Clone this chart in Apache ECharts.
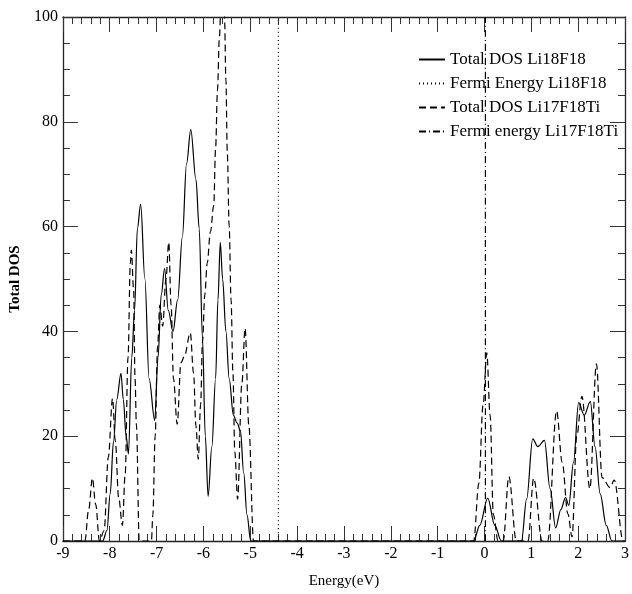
<!DOCTYPE html>
<html>
<head>
<meta charset="utf-8">
<script src="https://cdn.jsdelivr.net/npm/echarts@6/dist/echarts.min.js"></script>
<style>
  html, body { margin: 0; padding: 0; background: #fff; }
  #chart { width: 632px; height: 594px; }
</style>
</head>
<body>
<div id="chart"></div>
<script>
// Total density of states vs energy, [energy (eV), DOS]
const li18f18Dos = [
  [-9, 0], [-8.15, 0], [-8.06, 2], [-7.99, 9], [-7.92, 19], [-7.85, 27], [-7.76, 32],
  [-7.71, 27], [-7.65, 20], [-7.6, 16.6], [-7.53, 35], [-7.47, 44], [-7.41, 59.6],
  [-7.34, 64.3], [-7.25, 50], [-7.16, 31], [-7.04, 23], [-6.97, 35], [-6.9, 47],
  [-6.83, 52], [-6.75, 44], [-6.65, 40], [-6.55, 46], [-6.45, 58], [-6.36, 72],
  [-6.27, 78.5], [-6.16, 69], [-6.09, 59.6], [-6.02, 38.7], [-5.96, 20], [-5.9, 8.5],
  [-5.82, 18], [-5.74, 31], [-5.69, 46], [-5.64, 57], [-5.59, 50], [-5.52, 40],
  [-5.45, 31], [-5.36, 24], [-5.28, 22.5], [-5.21, 21], [-5.14, 13], [-5.07, 5],
  [-4.99, 0], [-0.23, 0], [-0.1, 3], [0.07, 8.2], [0.22, 3], [0.36, 0], [0.79, 0],
  [0.9, 8], [1.03, 19.5], [1.14, 18], [1.28, 19.2], [1.4, 10], [1.52, 2.5], [1.63, 6],
  [1.73, 8.3], [1.8, 6.8], [1.9, 15], [2.01, 26.4], [2.13, 24], [2.26, 26.6], [2.36, 18],
  [2.47, 9], [2.6, 3], [2.72, 0], [3, 0]
];

const li17f18tiDos = [
  [-9, 0], [-8.53, 0], [-8.45, 6], [-8.37, 12], [-8.3, 7], [-8.22, 0], [-8.12, 2],
  [-8.03, 16], [-7.94, 27.2], [-7.88, 19], [-7.81, 8.3], [-7.73, 3], [-7.67, 12.8],
  [-7.61, 35], [-7.56, 53], [-7.54, 55.5], [-7.49, 48], [-7.46, 31], [-7.43, 22],
  [-7.37, 0], [-7.11, 0], [-7.08, 5], [-7.03, 20], [-6.98, 37], [-6.93, 45],
  [-6.87, 41], [-6.8, 50], [-6.74, 57], [-6.69, 45], [-6.64, 31], [-6.56, 22.3],
  [-6.48, 34], [-6.41, 35.2], [-6.28, 39.7], [-6.21, 32], [-6.16, 22], [-6.11, 15.6],
  [-6.06, 26], [-6.02, 38], [-5.97, 47], [-5.92, 53], [-5.85, 59], [-5.78, 64],
  [-5.74, 75], [-5.7, 86], [-5.66, 96], [-5.62, 104], [-5.58, 106], [-5.55, 100],
  [-5.52, 88], [-5.49, 74], [-5.45, 60], [-5.41, 46], [-5.37, 32], [-5.33, 17],
  [-5.27, 8], [-5.18, 30], [-5.11, 40.6], [-5.03, 22], [-4.93, 0], [-0.23, 0],
  [-0.12, 11], [-0.03, 26], [0.05, 35.9], [0.12, 24], [0.19, 5], [0.29, 0], [0.4, 0],
  [0.52, 12.3], [0.68, 0], [0.93, 0], [1.05, 12], [1.23, 0], [1.35, 0], [1.54, 24.8],
  [1.66, 15], [1.78, 5.2], [1.87, 0.8], [1.97, 20], [2.08, 27.6], [2.25, 10],
  [2.39, 33.8], [2.51, 12.1], [2.68, 10.2], [2.77, 11.6], [2.96, 0], [3, 0]
];

// Fermi levels (eV)
const fermiLi18F18 = -4.4;
const fermiLi17F18Ti = 0.02;

const seriesNames = [
  'Total DOS Li18F18',
  'Fermi Energy Li18F18',
  'Total DOS Li17F18Ti',
  'Fermi energy Li17F18Ti'
];

const xRange = [-9, 3];
const yRange = [0, 100];

const serif = 'Liberation Serif';
const ink = '#000';

const chart = echarts.init(document.getElementById('chart'));

function frameAxis(extra) {
  return Object.assign({
    type: 'value',
    axisLine: { show: true, onZero: false, lineStyle: { color: '#222', width: 1.3 } },
    axisTick: { show: true, inside: true, length: 15, lineStyle: { color: '#333', width: 1 } },
    minorTick: { show: true, length: 7, lineStyle: { color: '#333', width: 1 } },
    splitLine: { show: false },
    axisLabel: { show: false }
  }, extra);
}

function curve(name, data, type, width) {
  return {
    name: name,
    type: 'line',
    data: data,
    smooth: 0.35,
    smoothMonotone: 'x',
    symbol: 'none',
    showSymbol: false,
    clip: true,
    lineStyle: { color: ink, width: width, type: type },
    itemStyle: { color: ink },
    animation: false
  };
}

chart.setOption({
  backgroundColor: '#fff',
  animation: false,
  grid: { left: 59, right: 4, top: 17, bottom: 50, containLabel: false },
  legend: {
    orient: 'vertical',
    left: 413,
    top: 46,
    itemWidth: 26,
    itemHeight: 12,
    itemGap: 7,
    itemStyle: { opacity: 0 },
    textStyle: { fontFamily: serif, fontSize: 17, color: ink },
    data: seriesNames
  },
  xAxis: [
    frameAxis({
      position: 'bottom',
      min: xRange[0], max: xRange[1], interval: 1,
      minorTick: { show: true, splitNumber: 5, length: 7, lineStyle: { color: '#333' } },
      axisLabel: { show: true, fontFamily: serif, fontSize: 16, color: ink, margin: 5 },
      name: 'Energy(eV)',
      nameLocation: 'middle',
      nameGap: 33,
      nameTextStyle: { fontFamily: serif, fontSize: 15, color: ink }
    }),
    frameAxis({
      position: 'top',
      min: xRange[0], max: xRange[1], interval: 1,
      minorTick: { show: true, splitNumber: 5, length: 7, lineStyle: { color: '#333' } }
    })
  ],
  yAxis: [
    frameAxis({
      position: 'left',
      min: yRange[0], max: yRange[1], interval: 20,
      minorTick: { show: true, splitNumber: 4, length: 7, lineStyle: { color: '#333' } },
      axisLabel: { show: true, fontFamily: serif, fontSize: 16, color: ink, margin: 5 },
      name: 'Total DOS',
      nameLocation: 'middle',
      nameGap: 34,
      nameRotate: 90,
      nameTextStyle: { fontFamily: serif, fontSize: 15, fontWeight: 'bold', color: ink }
    }),
    frameAxis({
      position: 'right',
      min: yRange[0], max: yRange[1], interval: 20,
      minorTick: { show: true, splitNumber: 4, length: 7, lineStyle: { color: '#333' } }
    })
  ],
  series: [
    curve(seriesNames[0], li18f18Dos, 'solid', 1.2),
    curve(seriesNames[1], [[fermiLi18F18, yRange[0]], [fermiLi18F18, yRange[1]]], [1, 3], 1.2),
    curve(seriesNames[2], li17f18tiDos, [7, 4], 1.2),
    curve(seriesNames[3], [[fermiLi17F18Ti, yRange[0]], [fermiLi17F18Ti, yRange[1]]], [7, 3, 1, 3], 1.2)
  ]
});
</script>
</body>
</html>
